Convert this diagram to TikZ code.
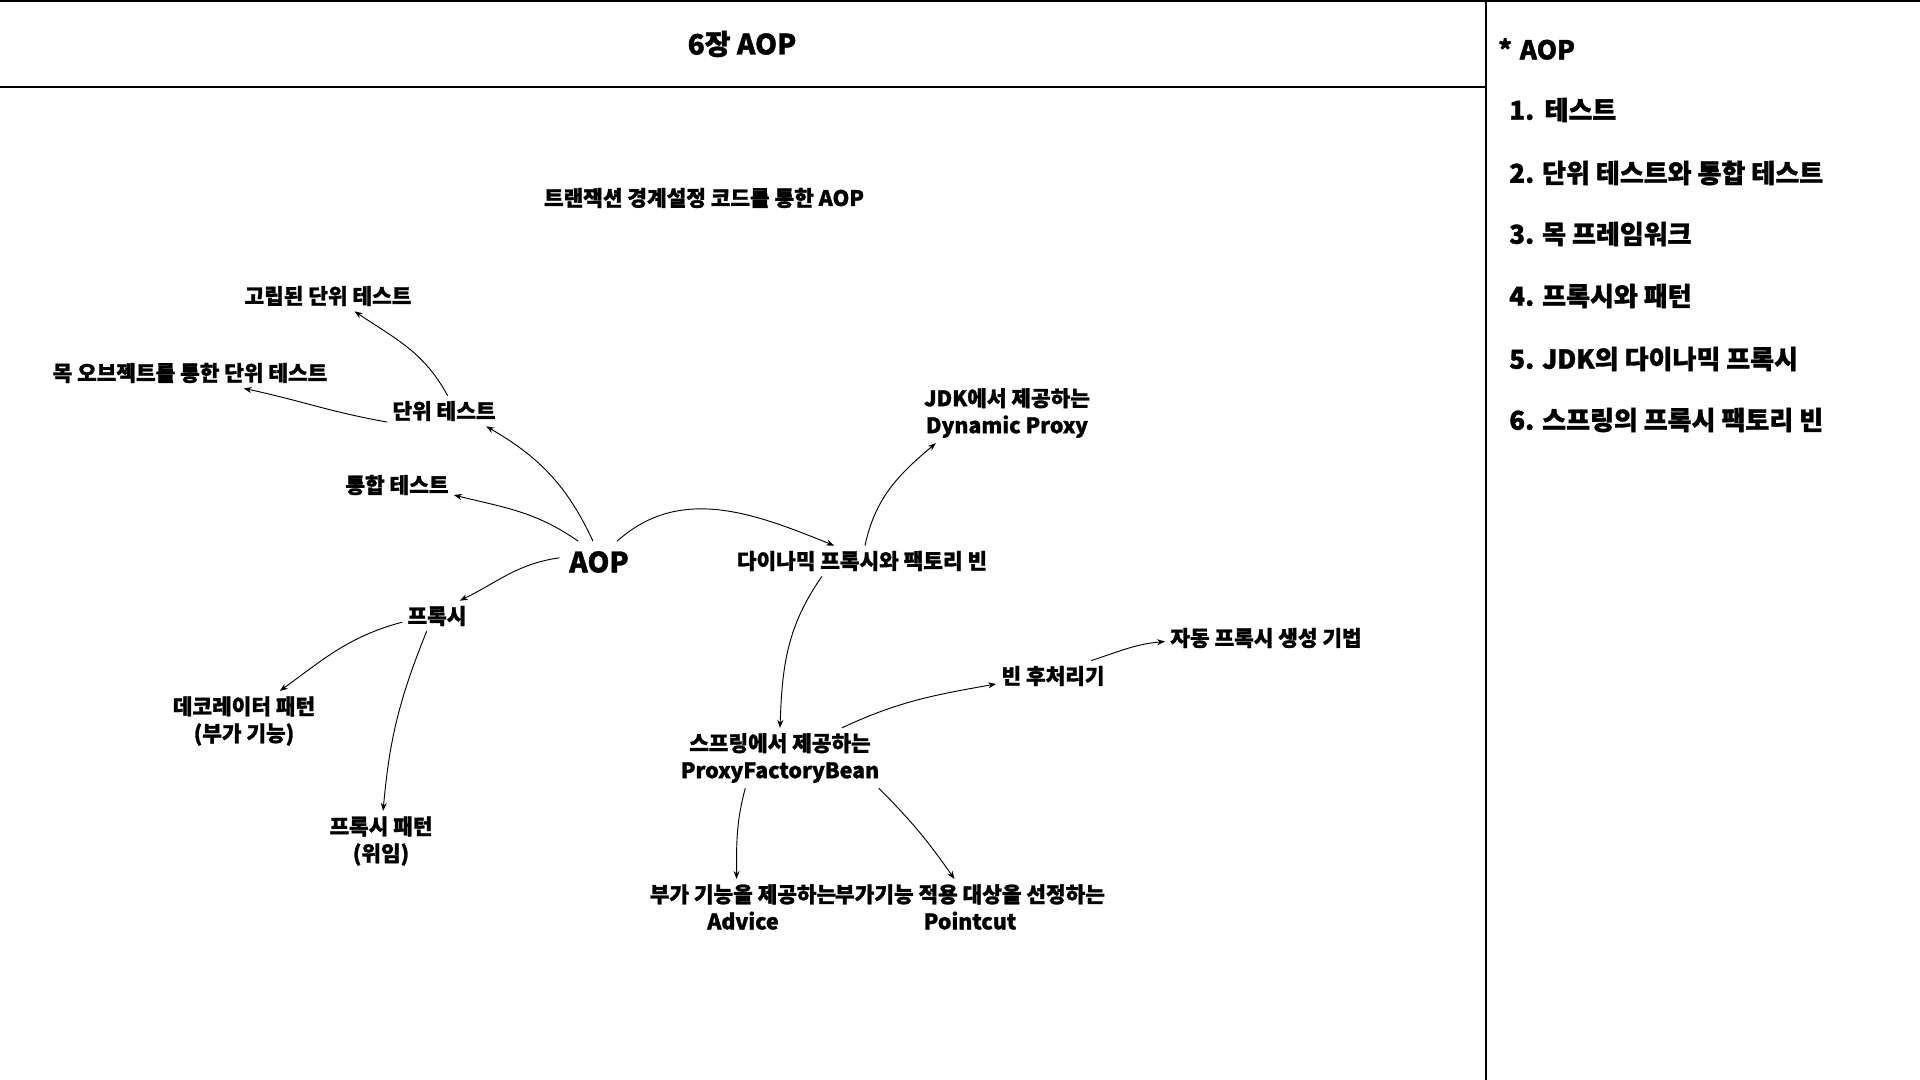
\documentclass[tikz,border=0pt]{standalone}
\usepackage{fontspec}
\setmainfont{Noto Sans CJK KR}[BoldFeatures={FakeBold=1.3}]
\usetikzlibrary{arrows.meta}
\tikzset{
  lbl/.style={font=\fontsize{16}{20.25}\selectfont\bfseries, inner sep=4pt, outer sep=0pt, align=center},
  big/.style={font=\fontsize{21}{26}\selectfont\bfseries, inner sep=7.5pt, outer sep=0pt},
  toc/.style={font=\fontsize{19.5}{24}\selectfont\bfseries, anchor=west, inner sep=0pt},
  conn/.style={line width=0.7pt, -{Stealth[length=6pt,width=4.5pt]}},
  frameline/.style={line width=1.2pt}
}
\begin{document}
\begin{tikzpicture}[x=0.75pt,y=0.75pt]
\useasboundingbox (0,0) rectangle (1920,-1080);
\fill[white] (0,0) rectangle (1920,-1080);
% frame
\draw[frameline] (0,-1) -- (1920,-1);
\draw[frameline] (0,-87) -- (1486,-87);
\draw[frameline] (1486,0) -- (1486,-1080);

% title
\node[big, inner sep=0pt] (title) at (742,-44) {6장 AOP};
\node[lbl] (sub) at (704,-198) {트랜잭션 경계설정 코드를 통한 AOP};

% mind map nodes
\node[lbl] (isol) at (328,-296) {고립된 단위 테스트};
\node[lbl] (mock) at (190,-373) {목 오브젝트를 통한 단위 테스트};
\node[lbl] (unit) at (444,-411) {단위 테스트};
\node[lbl] (integ) at (397,-485) {통합 테스트};
\node[big] (aop) at (599,-562) {AOP};
\node[lbl] (dyn) at (862,-561) {다이나믹 프록시와 팩토리 빈};
\node[lbl] (jdk) at (1007,-413) {JDK에서 제공하는\\Dynamic Proxy};
\node[lbl] (proxy) at (437,-616) {프록시};
\node[lbl] (deco) at (244,-721) {데코레이터 패턴\\(부가 기능)};
\node[lbl] (ppat) at (381,-841) {프록시 패턴\\(위임)};
\node[lbl] (spring) at (780,-758) {스프링에서 제공하는\\ProxyFactoryBean};
\node[lbl] (bpp) at (1053,-676) {빈 후처리기};
\node[lbl] (auto) at (1266,-638) {자동 프록시 생성 기법};
\node[lbl] (advice) at (743,-907) {부가 기능을 제공하는\\Advice};
\node[lbl] (pointcut) at (970,-907) {부가기능 적용 대상을 선정하는\\Pointcut};

% connectors
\draw[conn] (aop.106) to[out=115,in=-30] (unit.-20);
\draw[conn] (unit.77) to[out=118,in=-34] (isol.-30);
\draw[conn] (unit.191) to[out=170,in=-12] (mock.-16);
\draw[conn] (aop.135) to[out=145,in=-14] (integ.-10);
\draw[conn] (aop.174) to[out=188,in=26] (proxy.34);
\draw[conn] (proxy.190) to[out=195,in=36] (deco.40);
\draw[conn] (proxy.-124) to[out=-112,in=85] (ppat.86);
\draw[conn] (aop.49) to[out=42,in=158] (dyn.151);
\draw[conn] (dyn.79) to[out=78,in=-140] (jdk.203);
\draw[conn] (dyn.-159) to[out=-125,in=88] (spring.90);
\draw[conn] (spring.26) to[out=25,in=-170] (bpp.188);
\draw[conn] (bpp.22) to[out=18,in=-175] (auto.182);
\draw[conn] (spring.-139.5) to[out=-105,in=90] (advice.103);
\draw[conn] (spring.-17.5) to[out=-45,in=125] (pointcut.119.5);

% right panel
\node[toc] (t0) at (1498,-49) {*\hspace{0.3em}AOP};
\node[toc] (t1) at (1509,-110) {1.\hspace{0.4em}테스트};
\node[toc] (t2) at (1509,-173) {2. 단위 테스트와 통합 테스트};
\node[toc] (t3) at (1509,-234) {3. 목 프레임워크};
\node[toc] (t4) at (1509,-296) {4. 프록시와 패턴};
\node[toc] (t5) at (1509,-359) {5. JDK의 다이나믹 프록시};
\node[toc] (t6) at (1509,-420) {6. 스프링의 프록시 팩토리 빈};
\end{tikzpicture}
\end{document}
